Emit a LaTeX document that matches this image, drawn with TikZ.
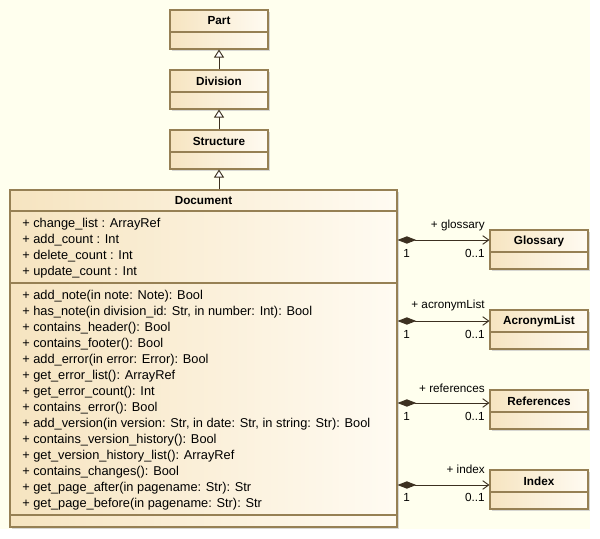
\documentclass[tikz,border=0pt]{standalone}
\usepackage{fontspec}
\setmainfont{Liberation Sans}
\usetikzlibrary{arrows.meta,shadows}
\definecolor{bgc}{RGB}{255,255,238}
\definecolor{boxl}{RGB}{246,228,192}
\definecolor{boxr}{RGB}{255,251,242}
\definecolor{bord}{RGB}{150,128,84}
\definecolor{lnc}{RGB}{60,48,32}
\tikzset{
  classbox/.style={draw=bord, line width=0.8pt, shading=axis, left color=boxl, right color=boxr,
    drop shadow={shadow xshift=1.6pt, shadow yshift=-1.6pt, fill=black!22, opacity=0.7}, inner sep=0pt},
  ctitle/.style={font=\fontsize{8.8}{10}\selectfont\bfseries, inner sep=0pt},
  member/.style={font=\fontsize{9.6}{11}\selectfont, anchor=west, inner sep=0pt},
  lbl/.style={font=\fontsize{8.8}{10}\selectfont, inner sep=0pt},
  sepline/.style={draw=bord, line width=0.8pt},
  gen/.style={draw=lnc, line width=0.7pt, -{Triangle[open, length=6pt, width=7.5pt, fill=white]}},
  comp/.style={draw=lnc, line width=0.7pt, {Diamond[length=14pt, width=5.5pt, fill=lnc]}-{Straight Barb[length=4.5pt, width=6.5pt]}}
}
\begin{document}
\begin{tikzpicture}[x=0.75pt,y=-0.75pt]
\fill[white] (0,0) rectangle (600,539);
\fill[bgc] (0,0) rectangle (590,529);
\useasboundingbox (0,0) rectangle (600,539);
% class boxes
\node[classbox, minimum width=73.5pt, minimum height=29.25pt] (part) at (219,29.5) {};
\node[classbox, minimum width=73.5pt, minimum height=29.25pt] (div) at (219,89.5) {};
\node[classbox, minimum width=73.5pt, minimum height=29.25pt] (struct) at (219,149.5) {};
\node[classbox, minimum width=290.25pt, minimum height=252.75pt] (doc) at (203.5,358.5) {};
\node[classbox, minimum width=73.5pt, minimum height=29.25pt] (gloss) at (539,249.5) {};
\node[classbox, minimum width=73.5pt, minimum height=29.25pt] (acro) at (539,329.5) {};
\node[classbox, minimum width=73.5pt, minimum height=29.25pt] (refs) at (539,409.5) {};
\node[classbox, minimum width=73.5pt, minimum height=29.25pt] (idx) at (539,489.5) {};
% separators
\draw[sepline] (part.west |- 0,32) -- (part.east |- 0,32);
\draw[sepline] (div.west |- 0,92) -- (div.east |- 0,92);
\draw[sepline] (struct.west |- 0,152) -- (struct.east |- 0,152);
\draw[sepline] (doc.west |- 0,211) -- (doc.east |- 0,211);
\draw[sepline] (doc.west |- 0,283) -- (doc.east |- 0,283);
\draw[sepline] (doc.west |- 0,515) -- (doc.east |- 0,515);
\draw[sepline] (gloss.west |- 0,252) -- (gloss.east |- 0,252);
\draw[sepline] (acro.west |- 0,332) -- (acro.east |- 0,332);
\draw[sepline] (refs.west |- 0,412) -- (refs.east |- 0,412);
\draw[sepline] (idx.west |- 0,492) -- (idx.east |- 0,492);
% titles
\node[ctitle] (partT) at (219,21) {Part};
\node[ctitle] (divT) at (219,81) {Division};
\node[ctitle] (structT) at (219,141) {Structure};
\node[ctitle] (docT) at (203.5,200.5) {Document};
\node[ctitle] (glossT) at (539,241) {Glossary};
\node[ctitle] (acroT) at (539,321) {AcronymList};
\node[ctitle] (refsT) at (539,401) {References};
\node[ctitle] (idxT) at (539,481) {Index};
% attributes
\node[member] (a1) at (22,224) {+ change\_list : ArrayRef};
\node[member] (a2) at (22,240) {+ add\_count : Int};
\node[member] (a3) at (22,256) {+ delete\_count : Int};
\node[member] (a4) at (22,272) {+ update\_count : Int};
% operations
\node[member] (o1) at (22,296) {+ add\_note(in note: Note): Bool};
\node[member] (o2) at (22,312) {+ has\_note(in division\_id: Str, in number: Int): Bool};
\node[member] (o3) at (22,328) {+ contains\_header(): Bool};
\node[member] (o4) at (22,344) {+ contains\_footer(): Bool};
\node[member] (o5) at (22,360) {+ add\_error(in error: Error): Bool};
\node[member] (o6) at (22,376) {+ get\_error\_list(): ArrayRef};
\node[member] (o7) at (22,392) {+ get\_error\_count(): Int};
\node[member] (o8) at (22,408) {+ contains\_error(): Bool};
\node[member] (o9) at (22,424) {+ add\_version(in version: Str, in date: Str, in string: Str): Bool};
\node[member] (o10) at (22,440) {+ contains\_version\_history(): Bool};
\node[member] (o11) at (22,456) {+ get\_version\_history\_list(): ArrayRef};
\node[member] (o12) at (22,472) {+ contains\_changes(): Bool};
\node[member] (o13) at (22,488) {+ get\_page\_after(in pagename: Str): Str};
\node[member] (o14) at (22,504) {+ get\_page\_before(in pagename: Str): Str};
% generalizations
\draw[gen] (div.north) -- (part.south);
\draw[gen] (struct.north) -- (div.south);
\draw[gen] (doc.north -| struct.south) -- (struct.south);
% compositions
\draw[comp] (doc.east |- 0,240) -- (gloss.west |- 0,240);
\draw[comp] (doc.east |- 0,321) -- (acro.west |- 0,321);
\draw[comp] (doc.east |- 0,403) -- (refs.west |- 0,403);
\draw[comp] (doc.east |- 0,485) -- (idx.west |- 0,485);
% role labels
\node[lbl, anchor=east] (r1) at (485,225) {+ glossary};
\node[lbl, anchor=west] (m1a) at (403,253) {1};
\node[lbl, anchor=east] (m1b) at (485,253) {0..1};
\node[lbl, anchor=east] (r2) at (485,305) {+ acronymList};
\node[lbl, anchor=west] (m2a) at (403,334) {1};
\node[lbl, anchor=east] (m2b) at (485,334) {0..1};
\node[lbl, anchor=east] (r3) at (485,388) {+ references};
\node[lbl, anchor=west] (m3a) at (403,416) {1};
\node[lbl, anchor=east] (m3b) at (485,416) {0..1};
\node[lbl, anchor=east] (r4) at (485,469) {+ index};
\node[lbl, anchor=west] (m4a) at (403,497) {1};
\node[lbl, anchor=east] (m4b) at (485,497) {0..1};
\end{tikzpicture}
\end{document}
